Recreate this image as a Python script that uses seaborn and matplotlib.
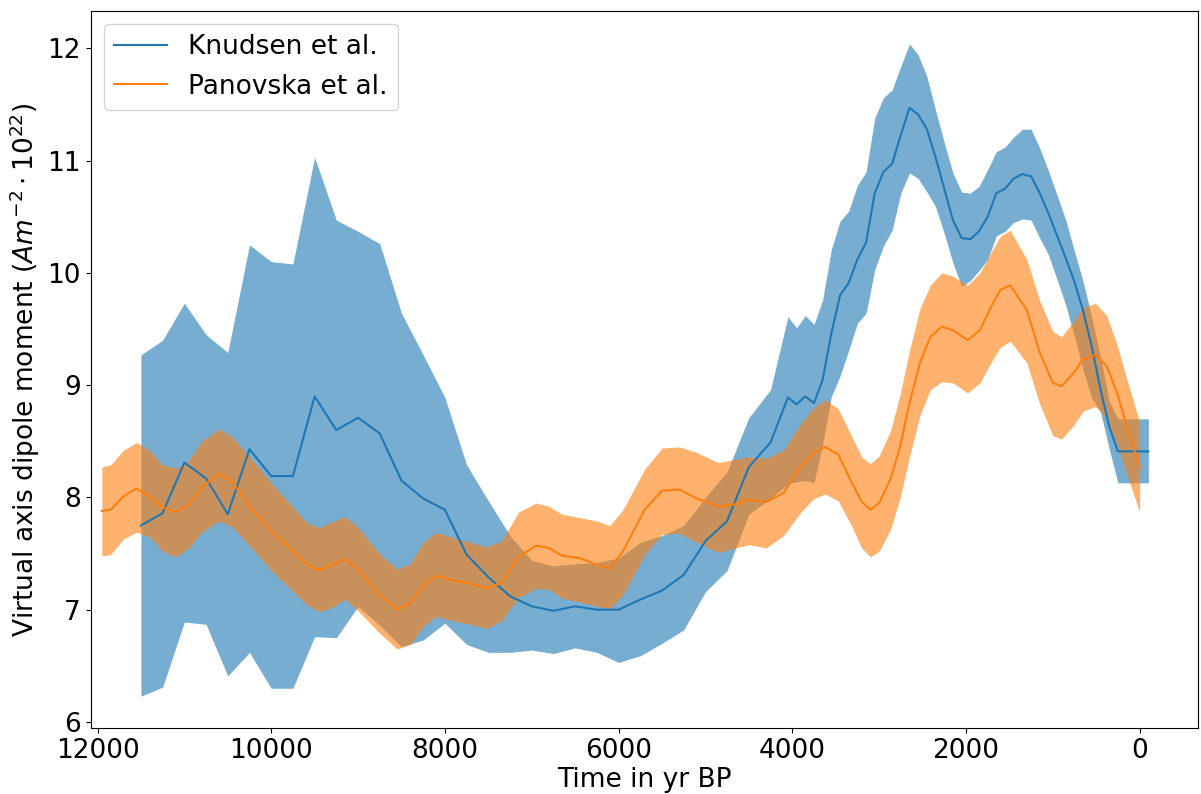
import numpy as np
import pandas as pd
import matplotlib
matplotlib.use("Agg")
import matplotlib.pyplot as plt
import seaborn as sns

# ---------------- Data ----------------
# Knudsen et al. (piecewise values with uncertainty band)
knudsen_t = [11500, 11250, 11000, 10750, 10500, 10250, 10000, 9750, 9500, 9250,
             9000, 8750, 8500, 8250, 8000, 7750, 7500, 7250, 7000, 6750,
             6500, 6250, 6000, 5750, 5500, 5250, 5000, 4750, 4500, 4250,
             4050, 3950, 3850, 3750, 3650, 3550, 3450, 3350, 3250, 3150,
             3050, 2950, 2850, 2750, 2650, 2550, 2450, 2350, 2250, 2150,
             2050, 1950, 1850, 1750, 1650, 1550, 1450, 1350, 1250, 1150,
             1050, 950, 850, 750, 650, 550, 450, 350, 250, -100]
knudsen_mid = [7.75, 7.86, 8.31, 8.17, 7.85, 8.43, 8.19, 8.19, 8.90, 8.60,
               8.71, 8.57, 8.15, 7.99, 7.89, 7.49, 7.29, 7.12, 7.03, 6.99,
               7.03, 7.00, 7.00, 7.09, 7.17, 7.31, 7.61, 7.79, 8.27, 8.49,
               8.89, 8.83, 8.90, 8.84, 9.05, 9.46, 9.80, 9.91, 10.12, 10.27,
               10.71, 10.90, 10.97, 11.23, 11.47, 11.41, 11.28, 11.03, 10.75, 10.47,
               10.31, 10.30, 10.37, 10.50, 10.71, 10.75, 10.84, 10.88, 10.86, 10.71,
               10.53, 10.33, 10.13, 9.92, 9.66, 9.34, 8.96, 8.63, 8.41, 8.41]
knudsen_upper = [9.27, 9.40, 9.73, 9.45, 9.29, 10.25, 10.10, 10.08, 11.03, 10.47,
                 10.37, 10.26, 9.64, 9.27, 8.89, 8.29, 7.97, 7.66, 7.44, 7.39,
                 7.41, 7.42, 7.46, 7.60, 7.66, 7.75, 8.00, 8.23, 8.71, 8.96,
                 9.61, 9.51, 9.62, 9.54, 9.76, 10.21, 10.46, 10.55, 10.78, 10.90,
                 11.38, 11.56, 11.63, 11.84, 12.04, 11.94, 11.75, 11.45, 11.16, 10.89,
                 10.72, 10.71, 10.77, 10.92, 11.08, 11.12, 11.21, 11.28, 11.28, 11.11,
                 10.91, 10.69, 10.47, 10.19, 9.92, 9.60, 9.25, 8.86, 8.70, 8.70]
knudsen_lower = [6.23, 6.31, 6.89, 6.87, 6.41, 6.62, 6.30, 6.30, 6.76, 6.75,
                 7.03, 6.86, 6.67, 6.73, 6.88, 6.69, 6.62, 6.62, 6.64, 6.61,
                 6.66, 6.62, 6.53, 6.59, 6.70, 6.82, 7.16, 7.35, 7.85, 7.99,
                 8.12, 8.14, 8.15, 8.13, 8.47, 8.90, 9.08, 9.31, 9.55, 9.64,
                 10.03, 10.24, 10.38, 10.71, 10.89, 10.84, 10.72, 10.59, 10.35, 10.09,
                 9.88, 9.93, 10.02, 10.12, 10.33, 10.37, 10.45, 10.48, 10.47, 10.31,
                 10.16, 9.94, 9.71, 9.43, 9.13, 8.88, 8.76, 8.43, 8.13, 8.13]

# Panovska et al. (smooth model with uncertainty band)
panovska_t = [11950, 11850, 11700, 11550, 11400, 11250, 11100, 10950, 10800, 10600,
              10450, 10250, 10000, 9800, 9600, 9450, 9300, 9150, 9000, 8750,
              8550, 8400, 8250, 8100, 7900, 7700, 7520, 7350, 7150, 6950,
              6800, 6650, 6450, 6250, 6100, 5950, 5700, 5500, 5300, 5100,
              4850, 4650, 4500, 4300, 4100, 3900, 3750, 3620, 3470, 3320,
              3200, 3100, 3000, 2870, 2760, 2650, 2530, 2410, 2280, 2150,
              1980, 1840, 1690, 1600, 1490, 1300, 1150, 1000, 900, 760,
              650, 510, 380, 260, 150, 0]
panovska_mid = [7.88, 7.89, 8.01, 8.08, 8.01, 7.91, 7.87, 7.93, 8.09, 8.21,
                8.14, 7.92, 7.70, 7.56, 7.41, 7.35, 7.40, 7.45, 7.36, 7.13,
                7.00, 7.06, 7.22, 7.30, 7.26, 7.23, 7.19, 7.24, 7.47, 7.57,
                7.55, 7.48, 7.46, 7.40, 7.37, 7.52, 7.89, 8.06, 8.07, 7.99,
                7.92, 7.94, 7.98, 7.96, 8.04, 8.28, 8.40, 8.45, 8.38, 8.14,
                7.96, 7.89, 7.95, 8.16, 8.45, 8.84, 9.20, 9.43, 9.52, 9.49,
                9.40, 9.49, 9.73, 9.85, 9.89, 9.67, 9.29, 9.02, 8.99, 9.11,
                9.23, 9.27, 9.17, 8.93, 8.64, 8.27]
panovska_upper = [8.27, 8.29, 8.42, 8.49, 8.42, 8.29, 8.26, 8.33, 8.50, 8.61,
                  8.54, 8.36, 8.13, 7.96, 7.78, 7.73, 7.78, 7.83, 7.73, 7.50,
                  7.36, 7.41, 7.60, 7.69, 7.64, 7.60, 7.56, 7.61, 7.87, 7.95,
                  7.92, 7.85, 7.82, 7.79, 7.75, 7.89, 8.25, 8.44, 8.45, 8.40,
                  8.31, 8.34, 8.36, 8.35, 8.42, 8.66, 8.80, 8.87, 8.79, 8.55,
                  8.36, 8.30, 8.37, 8.59, 8.91, 9.31, 9.68, 9.89, 10.00, 9.97,
                  9.89, 10.00, 10.21, 10.33, 10.38, 10.12, 9.75, 9.48, 9.43, 9.57,
                  9.69, 9.73, 9.62, 9.36, 9.06, 8.67]
panovska_lower = [7.48, 7.49, 7.63, 7.69, 7.65, 7.52, 7.47, 7.55, 7.69, 7.79,
                  7.74, 7.57, 7.35, 7.20, 7.05, 6.98, 7.02, 7.09, 6.99, 6.79,
                  6.65, 6.69, 6.85, 6.94, 6.90, 6.87, 6.83, 6.90, 7.11, 7.19,
                  7.18, 7.10, 7.07, 7.03, 7.01, 7.13, 7.49, 7.67, 7.68, 7.60,
                  7.51, 7.55, 7.58, 7.55, 7.66, 7.87, 7.99, 8.03, 7.97, 7.75,
                  7.55, 7.47, 7.52, 7.71, 7.99, 8.36, 8.73, 8.96, 9.03, 9.02,
                  8.93, 9.02, 9.23, 9.34, 9.39, 9.20, 8.83, 8.55, 8.52, 8.64,
                  8.77, 8.81, 8.71, 8.48, 8.21, 7.87]

x_ticks = [12000, 10000, 8000, 6000, 4000, 2000, 0]
y_ticks = [6, 7, 8, 9, 10, 11, 12]

# ---------------- Plot ----------------
FS = 19
plt.rcParams['font.family'] = ['DejaVu Sans']

fig = plt.figure(figsize=(12.01, 7.94), dpi=100)
ax = fig.add_axes([0.0754, 0.0831, 0.9221, 0.9034])

blue = "#1f77b4"
orange = "#ff7f0e"

df_k = pd.DataFrame({"t": knudsen_t, "v": knudsen_mid})
df_p = pd.DataFrame({"t": panovska_t, "v": panovska_mid})

ax.fill_between(knudsen_t, knudsen_lower, knudsen_upper, color=blue, alpha=0.6, linewidth=0, zorder=1)
ax.fill_between(panovska_t, panovska_lower, panovska_upper, color=orange, alpha=0.6, linewidth=0, zorder=1)

sns.lineplot(data=df_k, x="t", y="v", ax=ax, color=blue, label="Knudsen et al.",
             linewidth=1.5, sort=False, estimator=None, zorder=2)
sns.lineplot(data=df_p, x="t", y="v", ax=ax, color=orange, label="Panovska et al.",
             linewidth=1.5, sort=False, estimator=None, zorder=2)

ax.set_xlim(12080, -672)
ax.set_ylim(5.946, 12.335)
ax.set_xticks(x_ticks)
ax.set_xticklabels([str(v) for v in x_ticks])
ax.set_yticks(y_ticks)
ax.set_yticklabels([str(v) for v in y_ticks])
ax.tick_params(labelsize=FS)

ax.set_xlabel("Time in yr BP", fontsize=FS, labelpad=2)
ax.set_ylabel(r"Virtual axis dipole moment ($Am^{-2} \cdot 10^{22}$)", fontsize=FS)

ax.legend(loc="upper left", fontsize=FS)

fig.savefig("out.png", dpi=100)
